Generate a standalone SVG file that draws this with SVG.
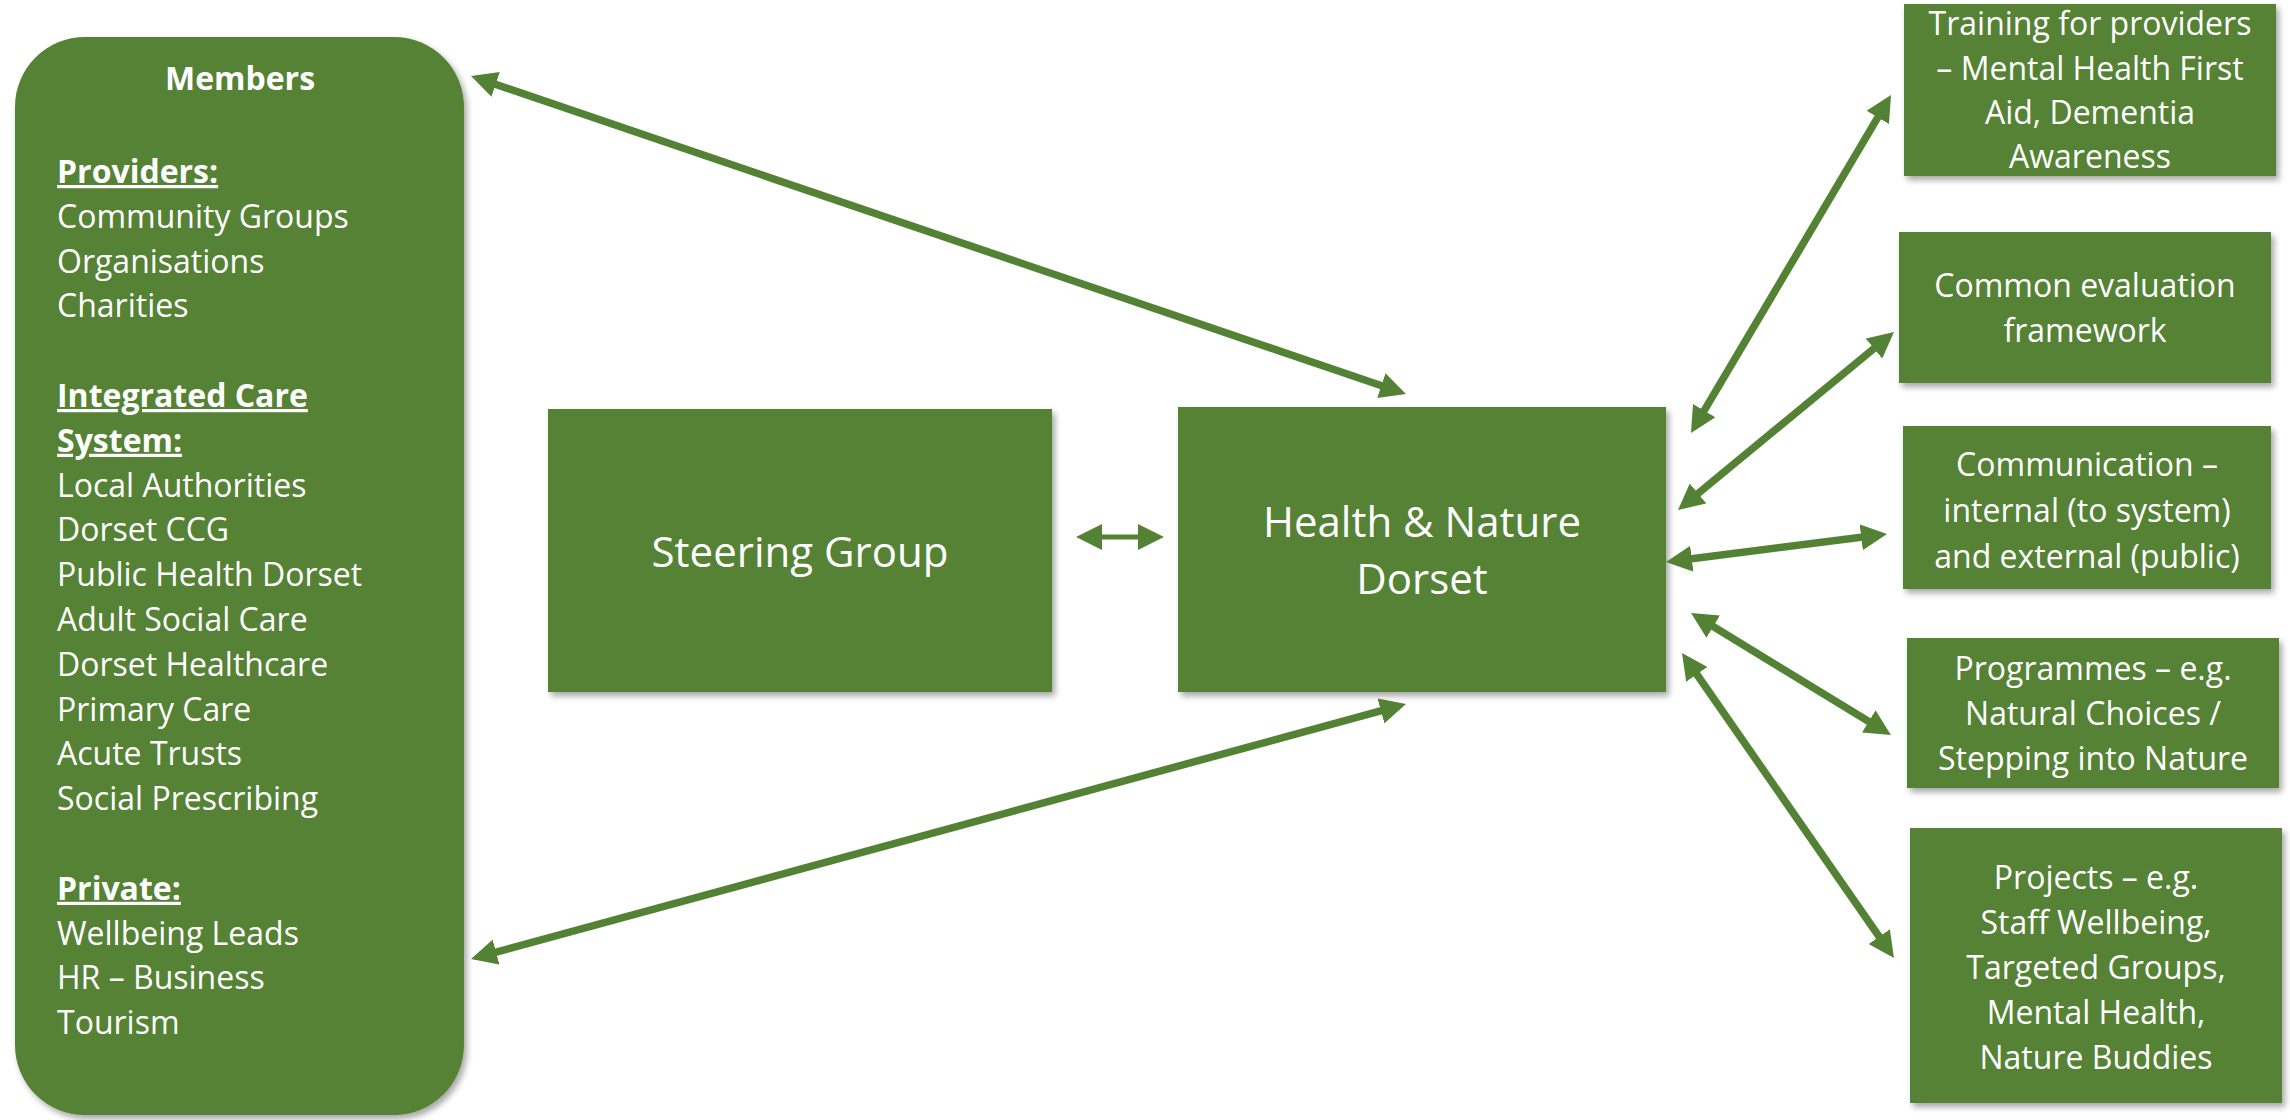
<svg xmlns="http://www.w3.org/2000/svg" width="2290" height="1120" viewBox="0 0 2290 1120">
<style>
.box{fill:#548235;filter:url(#sh)}
.t{font-family:"Open Sans","Liberation Sans",sans-serif;fill:#ffffff;font-size:32px}
.c{text-anchor:middle}
.big{font-size:42px}
.b{font-weight:bold}
.u{font-weight:bold;text-decoration:underline}
.ar{stroke:#548235;stroke-width:7.5;fill:none;marker-start:url(#ah);marker-end:url(#ah)}
</style>
<defs>
<filter id="sh" x="-10%" y="-10%" width="125%" height="125%">
<feDropShadow dx="3" dy="4" stdDeviation="3" flood-color="#000" flood-opacity="0.35"/>
</filter>
<marker id="ah" markerUnits="userSpaceOnUse" markerWidth="26" markerHeight="26" viewBox="0 0 26 26" refX="12" refY="13" orient="auto-start-reverse">
<path d="M0,0 L26,13 L0,26 z" fill="#548235"/>
</marker>
</defs>
<rect width="2290" height="1120" fill="#ffffff"/>

<g id="members">
<rect class="box" x="15" y="37" width="449" height="1078" rx="70" ry="70"/>
<text class="t b c" x="240" y="90">Members</text>
<text class="t" x="57">
<tspan x="57" y="183" class="u">Providers:</tspan>
<tspan x="57" y="227.8">Community Groups</tspan>
<tspan x="57" y="272.6">Organisations</tspan>
<tspan x="57" y="317.4">Charities</tspan>
<tspan x="57" y="407" class="u">Integrated Care</tspan>
<tspan x="57" y="451.8" class="u">System:</tspan>
<tspan x="57" y="496.6">Local Authorities</tspan>
<tspan x="57" y="541.4">Dorset CCG</tspan>
<tspan x="57" y="586.2">Public Health Dorset</tspan>
<tspan x="57" y="631">Adult Social Care</tspan>
<tspan x="57" y="675.8">Dorset Healthcare</tspan>
<tspan x="57" y="720.6">Primary Care</tspan>
<tspan x="57" y="765.4">Acute Trusts</tspan>
<tspan x="57" y="810.2">Social Prescribing</tspan>
<tspan x="57" y="899.8" class="u">Private:</tspan>
<tspan x="57" y="944.6">Wellbeing Leads</tspan>
<tspan x="57" y="989.4">HR – Business</tspan>
<tspan x="57" y="1034.2">Tourism</tspan>
</text>
</g>

<g id="steering">
<rect class="box" x="548" y="409" width="504" height="283"/>
<text class="t big c" x="800" y="567">Steering Group</text>
</g>

<g id="hnd">
<rect class="box" x="1178" y="407" width="488" height="285"/>
<text class="t big c" x="1422" y="537">Health &amp; Nature</text>
<text class="t big c" x="1422" y="594">Dorset</text>
</g>

<g id="training">
<rect class="box" x="1904" y="4" width="372" height="172"/>
<text class="t c" x="2090" y="35">Training for providers</text>
<text class="t c" x="2090" y="79.5">– Mental Health First</text>
<text class="t c" x="2090" y="124">Aid, Dementia</text>
<text class="t c" x="2090" y="168">Awareness</text>
</g>

<g id="evaluation">
<rect class="box" x="1899" y="232" width="372" height="151"/>
<text class="t c" x="2085" y="297">Common evaluation</text>
<text class="t c" x="2085" y="342">framework</text>
</g>

<g id="communication">
<rect class="box" x="1903" y="426" width="368" height="163"/>
<text class="t c" x="2087" y="476">Communication –</text>
<text class="t c" x="2087" y="522">internal (to system)</text>
<text class="t c" x="2087" y="568">and external (public)</text>
</g>

<g id="programmes">
<rect class="box" x="1907" y="638" width="372" height="150"/>
<text class="t c" x="2093" y="680">Programmes – e.g.</text>
<text class="t c" x="2093" y="725">Natural Choices /</text>
<text class="t c" x="2093" y="770">Stepping into Nature</text>
</g>

<g id="projects">
<rect class="box" x="1910" y="828" width="372" height="275"/>
<text class="t c" x="2096" y="889">Projects – e.g.</text>
<text class="t c" x="2096" y="934">Staff Wellbeing,</text>
<text class="t c" x="2096" y="979">Targeted Groups,</text>
<text class="t c" x="2096" y="1024">Mental Health,</text>
<text class="t c" x="2096" y="1069">Nature Buddies</text>
</g>

<g id="connectors">
<line class="ar" x1="484.3" y1="80.5" x2="1392.7" y2="389.5"/>
<line class="ar" x1="484.5" y1="955.3" x2="1392.5" y2="707.7"/>
<line class="ar" x1="1090" y1="537" x2="1150" y2="537" style="stroke-width:5"/>
<line class="ar" x1="1883.9" y1="107.1" x2="1698.1" y2="420.9"/>
<line class="ar" x1="1883.2" y1="340.9" x2="1688.8" y2="501.1"/>
<line class="ar" x1="1873.1" y1="535.8" x2="1679.9" y2="560.2"/>
<line class="ar" x1="1703" y1="620.3" x2="1879" y2="727.7"/>
<line class="ar" x1="1690" y1="664.5" x2="1886" y2="946.5"/>
</g>
</svg>
